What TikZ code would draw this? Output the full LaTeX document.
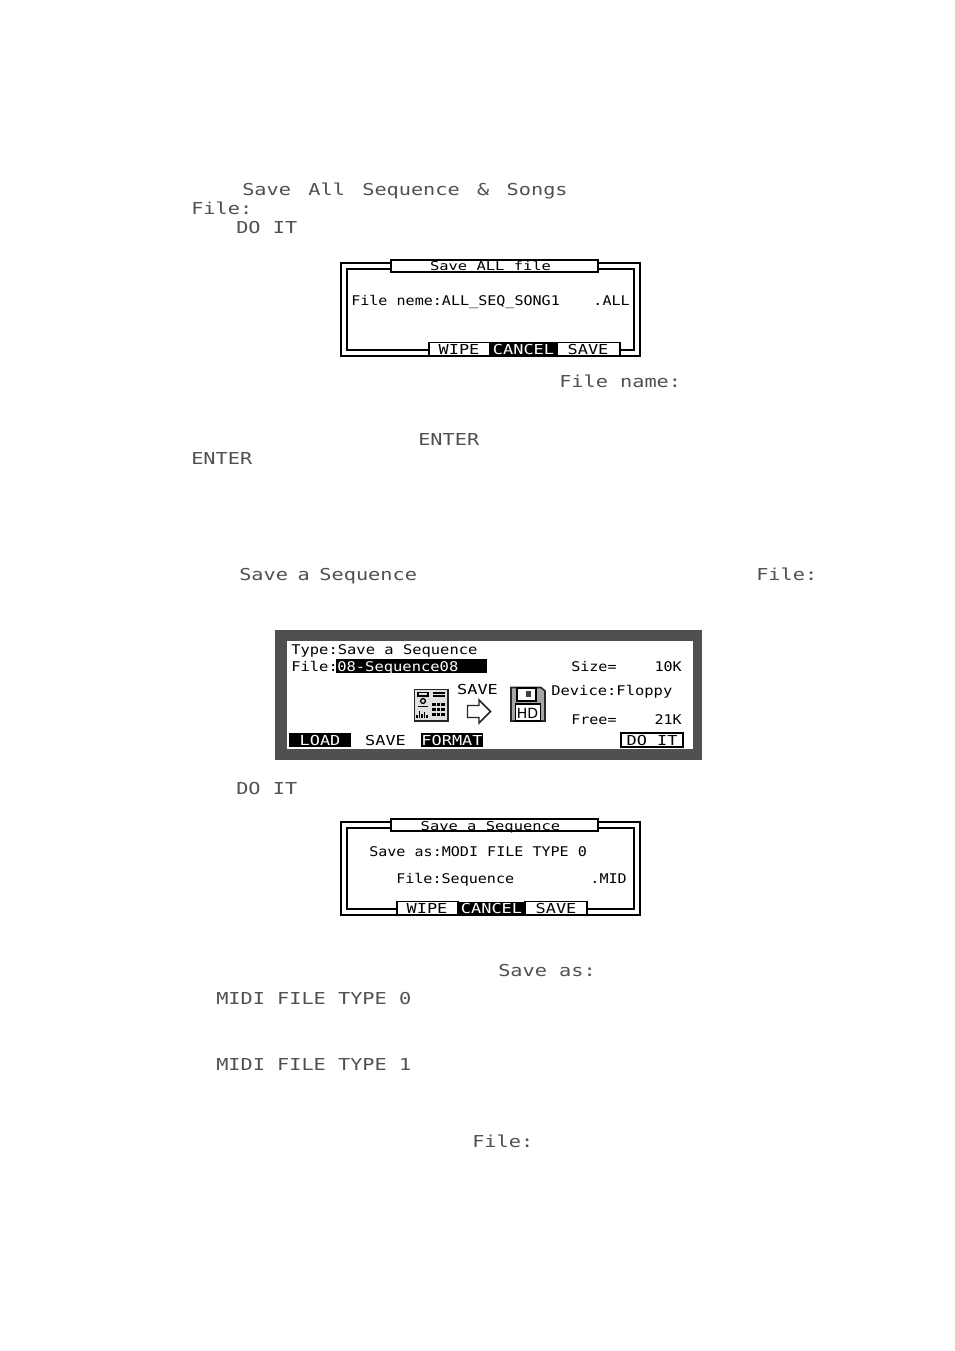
\documentclass[tikz,border=0pt]{standalone}
\usepackage{fontspec}
\newfontfamily\lcdbig[FakeStretch=1.234]{DejaVu Sans Mono}
\newfontfamily\lcdsmall[FakeStretch=1.13]{DejaVu Sans Mono}
\newfontfamily\lcdpanel[FakeStretch=1.16]{DejaVu Sans Mono}
\newfontfamily\lcdtitle[FakeStretch=1.26]{DejaVu Sans Mono}
\newfontfamily\lcdbtn[FakeStretch=1.23]{DejaVu Sans Mono}
\definecolor{panelgrey}{HTML}{505050}
\definecolor{biggrey}{HTML}{505050}
\tikzset{
  bigtxt/.style={anchor=base west,inner sep=0pt,text=biggrey,font=\lcdbig\fontsize{12.3pt}{14pt}\selectfont},
  smalltxt/.style={anchor=base west,inner sep=0pt,text=black,font=\lcdsmall\fontsize{10pt}{11pt}\selectfont},
  smallright/.style={smalltxt,anchor=base east},
  paneltxt/.style={smalltxt,font=\lcdpanel\fontsize{10pt}{11pt}\selectfont},
  titletxt/.style={smalltxt,anchor=base,font=\lcdtitle\fontsize{9.2pt}{11pt}\selectfont},
  btn/.style={smalltxt,anchor=base,font=\lcdbtn\fontsize{10.3pt}{11pt}\selectfont},
  btninv/.style={btn,text=white},
  frame/.style={draw=black,line width=0.9pt,fill=white},
  blackbar/.style={fill=black,draw=none},
  icon/.style={draw=black!85,line width=0.8pt,fill=white}
}
\begin{document}
\begin{tikzpicture}[x=0.75pt,y=-0.75pt]
\useasboundingbox (0,0) rectangle (954,1351);
\fill[white] (0,0) rectangle (954,1351);
% body words
\node[bigtxt] (t1) at (242,196) {Save\hspace{3.9pt} All\hspace{3.9pt} Sequence\hspace{3.9pt} \&\hspace{3.9pt} Songs};
\node[bigtxt] (t2) at (191,215) {File:};
\node[bigtxt] (t3) at (236,234) {DO IT};
\node[bigtxt] (t4) at (559,387.5) {File name:};
\node[bigtxt] (t5) at (418,445) {ENTER};
\node[bigtxt] (t6) at (191,464) {ENTER};
\node[bigtxt] (t7) at (239,580) {Save\hspace{-1.9pt} a\hspace{-1.9pt} Sequence};
\node[bigtxt] (t8) at (756,580) {File:};
\node[bigtxt] (t9) at (236,794) {DO IT};
\node[bigtxt] (t10) at (498,976) {Save as:};
\node[bigtxt] (t11) at (216,1004) {MIDI FILE TYPE 0};
\node[bigtxt] (t12) at (216,1070) {MIDI FILE TYPE 1};
\node[bigtxt] (t13) at (472,1147) {File:};
% dialog 1
\draw[frame] (341,263) rectangle (640,356);
\draw[frame,line width=1.2pt] (347,269) rectangle (634,350);
\draw[frame] (391,260) rectangle (598,272);
\draw[frame] (429,342.5) rectangle (490,356);
\fill[blackbar] (491,342.5) rectangle (556,356);
\draw[frame] (557,342.5) rectangle (620,356);
\draw[black,line width=1.2pt] (341,356) -- (640,356);
\node[titletxt] (d1t) at (490.5,270.5) {Save ALL file};
\node[smalltxt] (d1a) at (351,306) {File neme:ALL\_SEQ\_SONG1};
\node[smallright] (d1b) at (630,306) {.ALL};
\node[btn] (d1w) at (459,354.5) {WIPE};
\node[btninv] (d1c) at (523.5,354.5) {CANCEL};
\node[btn] (d1s) at (588,354.5) {SAVE};
% panel
\fill[panelgrey] (275,630) rectangle (702,760);
\fill[white] (287,641) rectangle (693,749);
\node[paneltxt] (p1) at (291,654) {Type:Save a Sequence};
\node[paneltxt] (p2) at (291,671) {File:};
\fill[blackbar] (336,659) rectangle (487,673);
\node[paneltxt,text=white] (p3) at (337,671) {08-Sequence08};
\node[smalltxt] (p4) at (571,671) {Size=};
\node[smallright] (p5) at (682,671) {10K};
\node[paneltxt] (p6) at (551,695) {Device:Floppy};
\node[smalltxt] (p7) at (571,724) {Free=};
\node[smallright] (p8) at (682,724) {21K};
\node[btn] (p9) at (477.5,694) {SAVE};
\fill[blackbar] (289,733) rectangle (351,747);
\node[btninv] (p10) at (320,745.5) {LOAD};
\node[btn] (p11) at (385.5,745.5) {SAVE};
\fill[blackbar] (421,733) rectangle (483,747);
\node[btninv] (p12) at (452,745.5) {FORMAT};
\draw[black,line width=0.9pt] (621,733) rectangle (683,747);
\node[btn] (p13) at (652,745.5) {DO IT};
% sampler icon
\draw[icon,line width=1.3pt,fill=black!12] (414.5,689.5) rectangle (448,721);
\draw[black,line width=0.9pt] (418,692.5) rectangle (428,696);
\draw[black,line width=1pt] (433,693) -- (445,693) (433,696) -- (445,696);
\draw[black,line width=1pt] (423,701) circle (2.4);
\draw[black,line width=1pt] (418,706.5) -- (428,706.5);
\foreach \ix in {432,436.5,441}{\foreach \iy in {703,708,713}{\fill[black] (\ix,\iy) rectangle ++(3.6,3.4);}}
\foreach \ix/\iy in {417/715,419.5/711,422/714,424.5/712,427/715}{\draw[black,line width=0.8pt] (\ix,\iy) -- (\ix,718);}
% arrow icon
\draw[icon,line width=1.1pt] (467.5,705.5) -- (479,705.5) -- (479,700) -- (490.5,711.5) -- (479,723) -- (479,717.5) -- (467.5,717.5) -- cycle;
% floppy icon
\draw[icon,fill=black!35,line width=1.2pt] (511,687.5) -- (541,687.5) -- (545,691) -- (545,721) -- (511,721) -- cycle;
\draw[black,line width=1pt,fill=white] (517,688) rectangle (536,701);
\fill[black!75] (525.5,691) rectangle (530.5,697);
\draw[black,line width=1pt,fill=white] (515.5,704) rectangle (540.5,721);
\node[inner sep=0pt,anchor=base,font=\fontspec{DejaVu Sans}\fontsize{10.5pt}{11pt}\selectfont] (hd) at (527.5,718.5) {HD};
% dialog 2
\draw[frame] (341,822) rectangle (640,915);
\draw[frame,line width=1.2pt] (347,828) rectangle (634,909);
\draw[frame] (391,819) rectangle (598,831);
\draw[frame] (397,901.5) rectangle (458,915);
\fill[blackbar] (459,901.5) rectangle (524,915);
\draw[frame] (525,901.5) rectangle (587,915);
\draw[black,line width=1.2pt] (341,915) -- (640,915);
\node[titletxt] (d2t) at (490.5,830) {Save a Sequence};
\node[smalltxt] (d2a) at (369,856) {Save as:MODI FILE TYPE 0};
\node[smalltxt] (d2b) at (396,883) {File:Sequence};
\node[smallright] (d2c) at (627,883) {.MID};
\node[btn] (d2w) at (427,913.5) {WIPE};
\node[btninv] (d2x) at (491.5,913.5) {CANCEL};
\node[btn] (d2s) at (556,913.5) {SAVE};
\end{tikzpicture}
\end{document}
